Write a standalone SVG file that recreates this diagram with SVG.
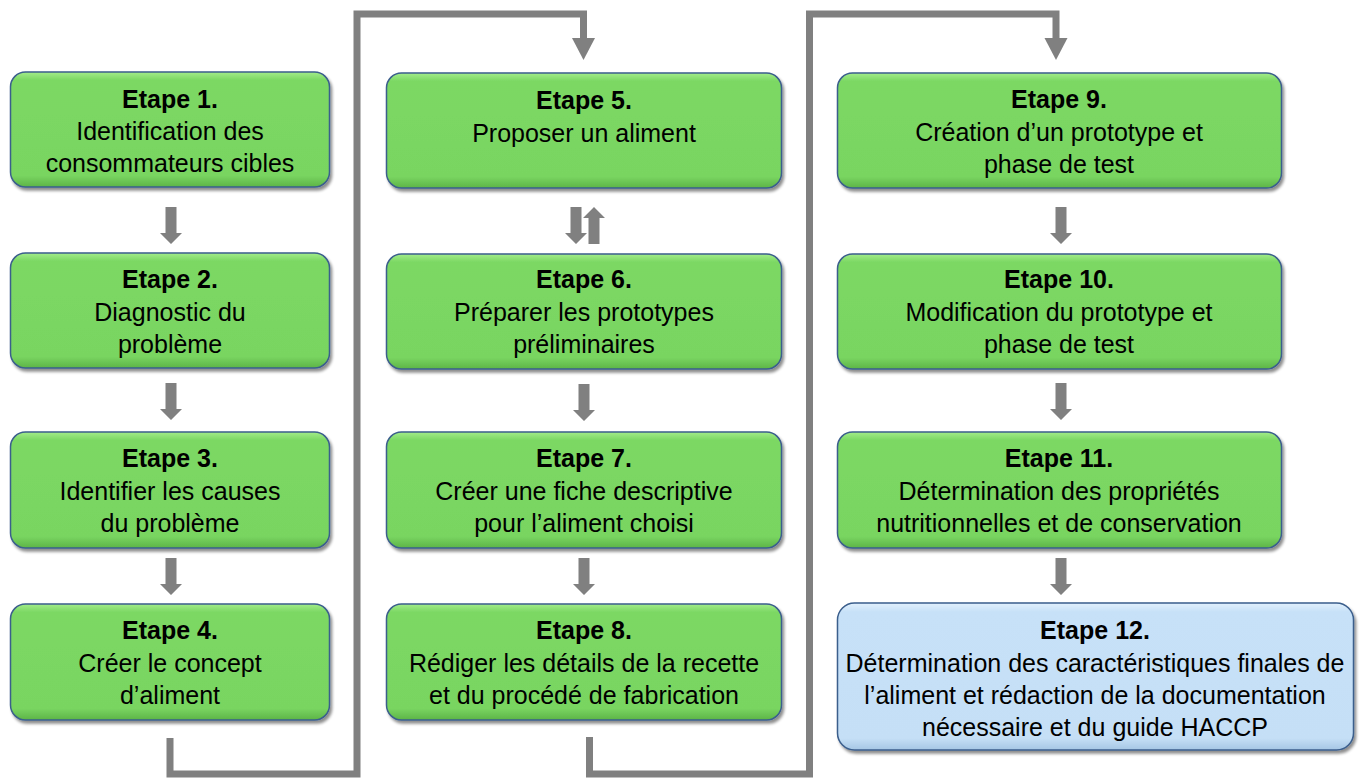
<svg xmlns="http://www.w3.org/2000/svg" width="1369" height="778" viewBox="0 0 1369 778">
<style>
.box{stroke:#3B5E8C;stroke-width:1.5;filter:url(#sh)}
.g{fill:url(#gg)}
.b{fill:url(#gb)}
text{font-family:"Liberation Sans",Arial,sans-serif;font-size:25px;fill:#000;text-anchor:middle}
.t{font-weight:bold}
.conn{fill:none;stroke:#808080;stroke-width:7;stroke-linejoin:miter}
.ah{fill:#808080}
</style>
<defs>
<linearGradient id="gg" x1="0" y1="0" x2="0" y2="1">
<stop offset="0" stop-color="#A3EC8A"/>
<stop offset="0.07" stop-color="#7CD864"/>
<stop offset="0.9" stop-color="#79D561"/>
<stop offset="1" stop-color="#5DB447"/>
</linearGradient>
<linearGradient id="gb" x1="0" y1="0" x2="0" y2="1">
<stop offset="0" stop-color="#E2F0FC"/>
<stop offset="0.06" stop-color="#C7E1F8"/>
<stop offset="0.92" stop-color="#C5DFF6"/>
<stop offset="1" stop-color="#A5C6E4"/>
</linearGradient>
<filter id="sh" x="-5%" y="-10%" width="112%" height="125%">
<feGaussianBlur in="SourceAlpha" stdDeviation="1.8"/>
<feOffset dx="2" dy="3" result="o"/>
<feComponentTransfer><feFuncA type="linear" slope="0.45"/></feComponentTransfer>
<feMerge><feMergeNode/><feMergeNode in="SourceGraphic"/></feMerge>
</filter>
<path id="dn" d="M-5.5,0 V26 H-11 L0,37 L11,26 H5.5 V0 Z" fill="#808080"/>
<path id="up" d="M-5.5,37 V11 H-11 L0,0 L11,11 H5.5 V37 Z" fill="#808080"/>
</defs>

<g id="connectors">
<polyline class="conn" points="170,738 170,774 357,774 357,14 583.5,14 583.5,40"/>
<polygon class="ah" points="572,38 595,38 583.5,60"/>
<polyline class="conn" points="589.5,737 589.5,774 809.5,774 809.5,14 1056,14 1056,40"/>
<polygon class="ah" points="1044.5,38 1067.5,38 1056,60"/>
<use href="#dn" x="171" y="207"/>
<use href="#dn" x="171" y="383"/>
<use href="#dn" x="171" y="558"/>
<use href="#dn" x="576" y="207"/>
<use href="#up" x="594" y="207"/>
<use href="#dn" x="584" y="384"/>
<use href="#dn" x="584" y="558"/>
<use href="#dn" x="1061" y="207"/>
<use href="#dn" x="1061" y="383"/>
<use href="#dn" x="1061" y="558"/>
</g>

<g id="etape1">
<rect class="box g" x="10.5" y="72" width="319" height="115" rx="15"/>
<text class="t" x="170" y="108">Etape 1.</text>
<text x="170" y="140">Identification des</text>
<text x="170" y="172">consommateurs cibles</text>
</g>
<g id="etape2">
<rect class="box g" x="10.5" y="253" width="319" height="115" rx="15"/>
<text class="t" x="170" y="288">Etape 2.</text>
<text x="170" y="321">Diagnostic du</text>
<text x="170" y="353">problème</text>
</g>
<g id="etape3">
<rect class="box g" x="10.5" y="432" width="319" height="116" rx="15"/>
<text class="t" x="170" y="467">Etape 3.</text>
<text x="170" y="500">Identifier les causes</text>
<text x="170" y="532">du problème</text>
</g>
<g id="etape4">
<rect class="box g" x="10.5" y="604" width="319" height="116" rx="15"/>
<text class="t" x="170" y="639">Etape 4.</text>
<text x="170" y="672">Créer le concept</text>
<text x="170" y="704">d’aliment</text>
</g>

<g id="etape5">
<rect class="box g" x="386.5" y="73" width="395" height="115" rx="15"/>
<text class="t" x="584" y="109">Etape 5.</text>
<text x="584" y="142">Proposer un aliment</text>
</g>
<g id="etape6">
<rect class="box g" x="386.5" y="254" width="395" height="115" rx="15"/>
<text class="t" x="584" y="288">Etape 6.</text>
<text x="584" y="321">Préparer les prototypes</text>
<text x="584" y="353">préliminaires</text>
</g>
<g id="etape7">
<rect class="box g" x="386.5" y="432" width="395" height="116" rx="15"/>
<text class="t" x="584" y="467">Etape 7.</text>
<text x="584" y="500">Créer une fiche descriptive</text>
<text x="584" y="532">pour l’aliment choisi</text>
</g>
<g id="etape8">
<rect class="box g" x="386.5" y="604" width="395" height="116" rx="15"/>
<text class="t" x="584" y="639">Etape 8.</text>
<text x="584" y="672">Rédiger les détails de la recette</text>
<text x="584" y="704">et du procédé de fabrication</text>
</g>

<g id="etape9">
<rect class="box g" x="837.5" y="73" width="444" height="115" rx="15"/>
<text class="t" x="1059" y="108">Etape 9.</text>
<text x="1059" y="141">Création d’un prototype et</text>
<text x="1059" y="173">phase de test</text>
</g>
<g id="etape10">
<rect class="box g" x="837.5" y="254" width="444" height="115" rx="15"/>
<text class="t" x="1059" y="288">Etape 10.</text>
<text x="1059" y="321">Modification du prototype et</text>
<text x="1059" y="353">phase de test</text>
</g>
<g id="etape11">
<rect class="box g" x="837.5" y="432" width="444" height="116" rx="15"/>
<text class="t" x="1059" y="467">Etape 11.</text>
<text x="1059" y="500">Détermination des propriétés</text>
<text x="1059" y="532">nutritionnelles et de conservation</text>
</g>
<g id="etape12">
<rect class="box b" x="837.5" y="603" width="516" height="147" rx="17"/>
<text class="t" x="1095" y="639">Etape 12.</text>
<text x="1095" y="672">Détermination des caractéristiques finales de</text>
<text x="1095" y="704">l’aliment et rédaction de la documentation</text>
<text x="1095" y="736">nécessaire et du guide HACCP</text>
</g>
</svg>
